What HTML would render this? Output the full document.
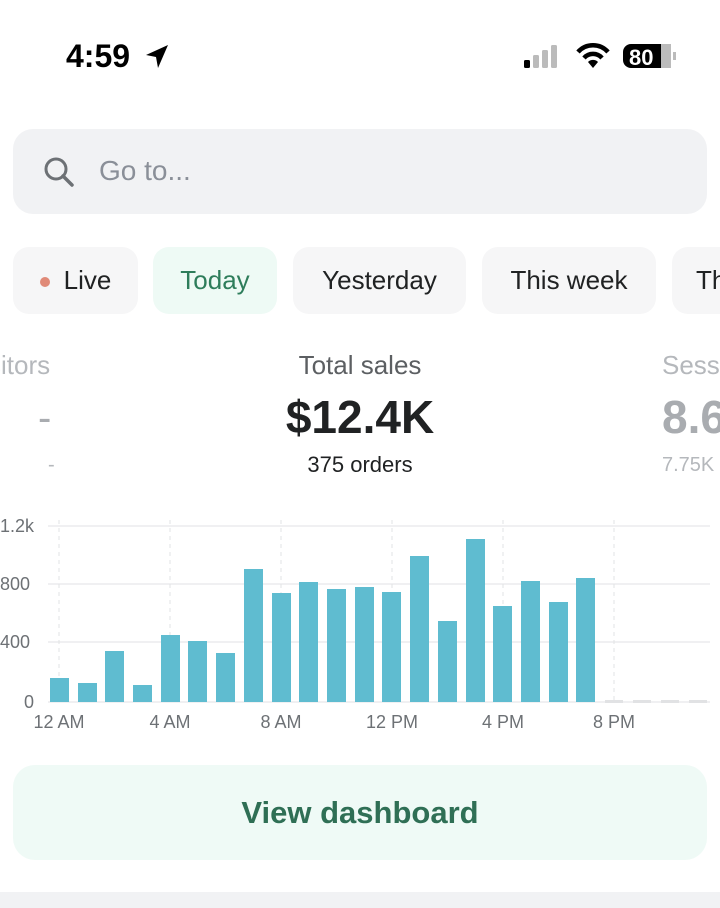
<!DOCTYPE html>
<html><head><meta charset="utf-8"><style>
html,body{margin:0;width:720px;height:908px;overflow:hidden;}
body{background:#fff;position:relative;font-family:"Liberation Sans",sans-serif;}
.a{position:absolute;white-space:nowrap;}
.chip{position:absolute;top:247px;height:67px;border-radius:16px;background:#f6f6f7;font-size:26px;color:#202223;line-height:67px;text-align:center;overflow:hidden;}
</style></head><body>
<div class="a" style="left:66px;top:38px;font-size:32px;font-weight:bold;color:#000;">4:59</div>
<svg class="a" style="left:142px;top:42px" width="30" height="30" viewBox="0 0 30 30"><path d="M26 3 L4 13 L14 15 L16 26 Z" fill="#000"/></svg>
<svg class="a" style="left:520px;top:40px" width="160" height="34">
<rect x="4" y="20" width="6" height="8" rx="1.5" fill="#000"/>
<rect x="13" y="15" width="6" height="13" rx="1.5" fill="#bbb"/>
<rect x="22" y="10" width="6" height="18" rx="1.5" fill="#bbb"/>
<rect x="31" y="5" width="6" height="23" rx="1.5" fill="#bbb"/>
<path d="M58 12 A20 20 0 0 1 88 12" stroke="#000" stroke-width="4.5" fill="none"/>
<path d="M64 18 A12 12 0 0 1 82 18" stroke="#000" stroke-width="4.5" fill="none"/>
<path d="M73 28 L68 22 A7 7 0 0 1 78 22 Z" fill="#000"/>
<rect x="103" y="4" width="48" height="24" rx="8" fill="#000"/>
<rect x="141" y="4" width="10" height="24" fill="#bbb"/>
<text x="109" y="25" font-family="Liberation Sans" font-weight="bold" font-size="22" fill="#fff">80</text>
<rect x="153" y="12" width="3" height="8" fill="#bbb"/>
</svg>
<div class="a" style="left:13px;top:129px;width:694px;height:85px;border-radius:20px;background:#f1f2f4;"></div>
<svg class="a" style="left:42px;top:155px" width="34" height="34"><circle cx="14" cy="14" r="10" stroke="#6d7175" stroke-width="3" fill="none"/><line x1="21" y1="21" x2="30" y2="30" stroke="#6d7175" stroke-width="3.5" stroke-linecap="round"/></svg>
<div class="a" style="left:99px;top:155px;font-size:28px;color:#8a8f98;">Go to...</div>
<div class="chip" style="left:13px;width:125px;"><span style="display:inline-block;width:10px;height:10px;border-radius:50%;background:#e08a78;vertical-align:middle;margin-right:14px;"></span>Live</div>
<div class="chip" style="left:153px;width:124px;background:#eefaf5;color:#2e7d5b;">Today</div>
<div class="chip" style="left:293px;width:173px;">Yesterday</div>
<div class="chip" style="left:482px;width:174px;">This week</div>
<div class="chip" style="left:672px;width:48px;border-radius:16px 0 0 16px;text-align:left;padding-left:24px;box-sizing:border-box;">Th</div>
<div class="a" style="left:0;top:350px;width:60px;overflow:hidden;font-size:26px;color:#b5b8bc;"><span style="margin-left:-12px">sitors</span></div>
<div class="a" style="left:38px;top:396px;font-size:40px;color:#a9acb0;">-</div>
<div class="a" style="left:48px;top:454px;font-size:20px;color:#b5b8bc;">-</div>
<div class="a" style="left:0;width:720px;text-align:center;top:350px;font-size:26px;color:#5c5f62;">Total sales</div>
<div class="a" style="left:0;width:720px;text-align:center;top:390px;font-size:46px;font-weight:bold;color:#202223;">$12.4K</div>
<div class="a" style="left:0;width:720px;text-align:center;top:452px;font-size:22px;color:#202223;">375 orders</div>
<div class="a" style="left:662px;top:345px;width:58px;height:140px;overflow:hidden;">
<div class="a" style="left:0;top:5px;font-size:26px;color:#b5b8bc;">Sessions</div>
<div class="a" style="left:0;top:45px;font-size:46px;font-weight:bold;color:#a9acb0;">8.6K</div>
<div class="a" style="left:0;top:109px;font-size:20px;color:#b5b8bc;">7.75K</div>
</div>
<svg class="a" style="left:0;top:500px" width="720" height="250">
<g stroke="#e6e7e9" stroke-width="1.2">
<line x1="48" y1="26" x2="710" y2="26"/><line x1="48" y1="84" x2="710" y2="84"/><line x1="48" y1="142" x2="710" y2="142"/><line x1="48" y1="202" x2="710" y2="202"/>
</g>
<g stroke="#e2e3e5" stroke-width="1" stroke-dasharray="4 4">
<line x1="59" y1="20" x2="59" y2="202"/><line x1="170" y1="20" x2="170" y2="202"/><line x1="281" y1="20" x2="281" y2="202"/><line x1="392" y1="20" x2="392" y2="202"/><line x1="503" y1="20" x2="503" y2="202"/><line x1="614" y1="20" x2="614" y2="202"/>
</g>
<g fill="#e1e2e4"><rect x="605" y="200" width="18" height="3"/><rect x="633" y="200" width="18" height="3"/><rect x="661" y="200" width="18" height="3"/><rect x="689" y="200" width="18" height="3"/></g>
<g font-family="Liberation Sans" font-size="18" fill="#6d7175">
<text x="0" y="32">1.2k</text><text x="0" y="90">800</text><text x="0" y="148">400</text><text x="24" y="208">0</text>
<g text-anchor="middle"><text x="59" y="228">12 AM</text><text x="170" y="228">4 AM</text><text x="281" y="228">8 AM</text><text x="392" y="228">12 PM</text><text x="503" y="228">4 PM</text><text x="614" y="228">8 PM</text></g>
</g>
<g fill="#5fbcd0">
<rect x="50" y="178" width="19" height="24"/><rect x="78" y="183" width="19" height="19"/><rect x="105" y="151" width="19" height="51"/><rect x="133" y="185" width="19" height="17"/><rect x="161" y="135" width="19" height="67"/><rect x="188" y="141" width="19" height="61"/><rect x="216" y="153" width="19" height="49"/><rect x="244" y="69" width="19" height="133"/><rect x="272" y="93" width="19" height="109"/><rect x="299" y="82" width="19" height="120"/><rect x="327" y="89" width="19" height="113"/><rect x="355" y="87" width="19" height="115"/><rect x="382" y="92" width="19" height="110"/><rect x="410" y="56" width="19" height="146"/><rect x="438" y="121" width="19" height="81"/><rect x="466" y="39" width="19" height="163"/><rect x="493" y="106" width="19" height="96"/><rect x="521" y="81" width="19" height="121"/><rect x="549" y="102" width="19" height="100"/><rect x="576" y="78" width="19" height="124"/>
</g>
</svg>
<div class="a" style="left:13px;top:765px;width:694px;height:95px;border-radius:22px;background:#effaf6;text-align:center;line-height:95px;font-size:31px;font-weight:bold;color:#2f6f55;">View dashboard</div>
<div class="a" style="left:0;top:892px;width:720px;height:16px;background:#f1f2f4;"></div>
</body></html>
